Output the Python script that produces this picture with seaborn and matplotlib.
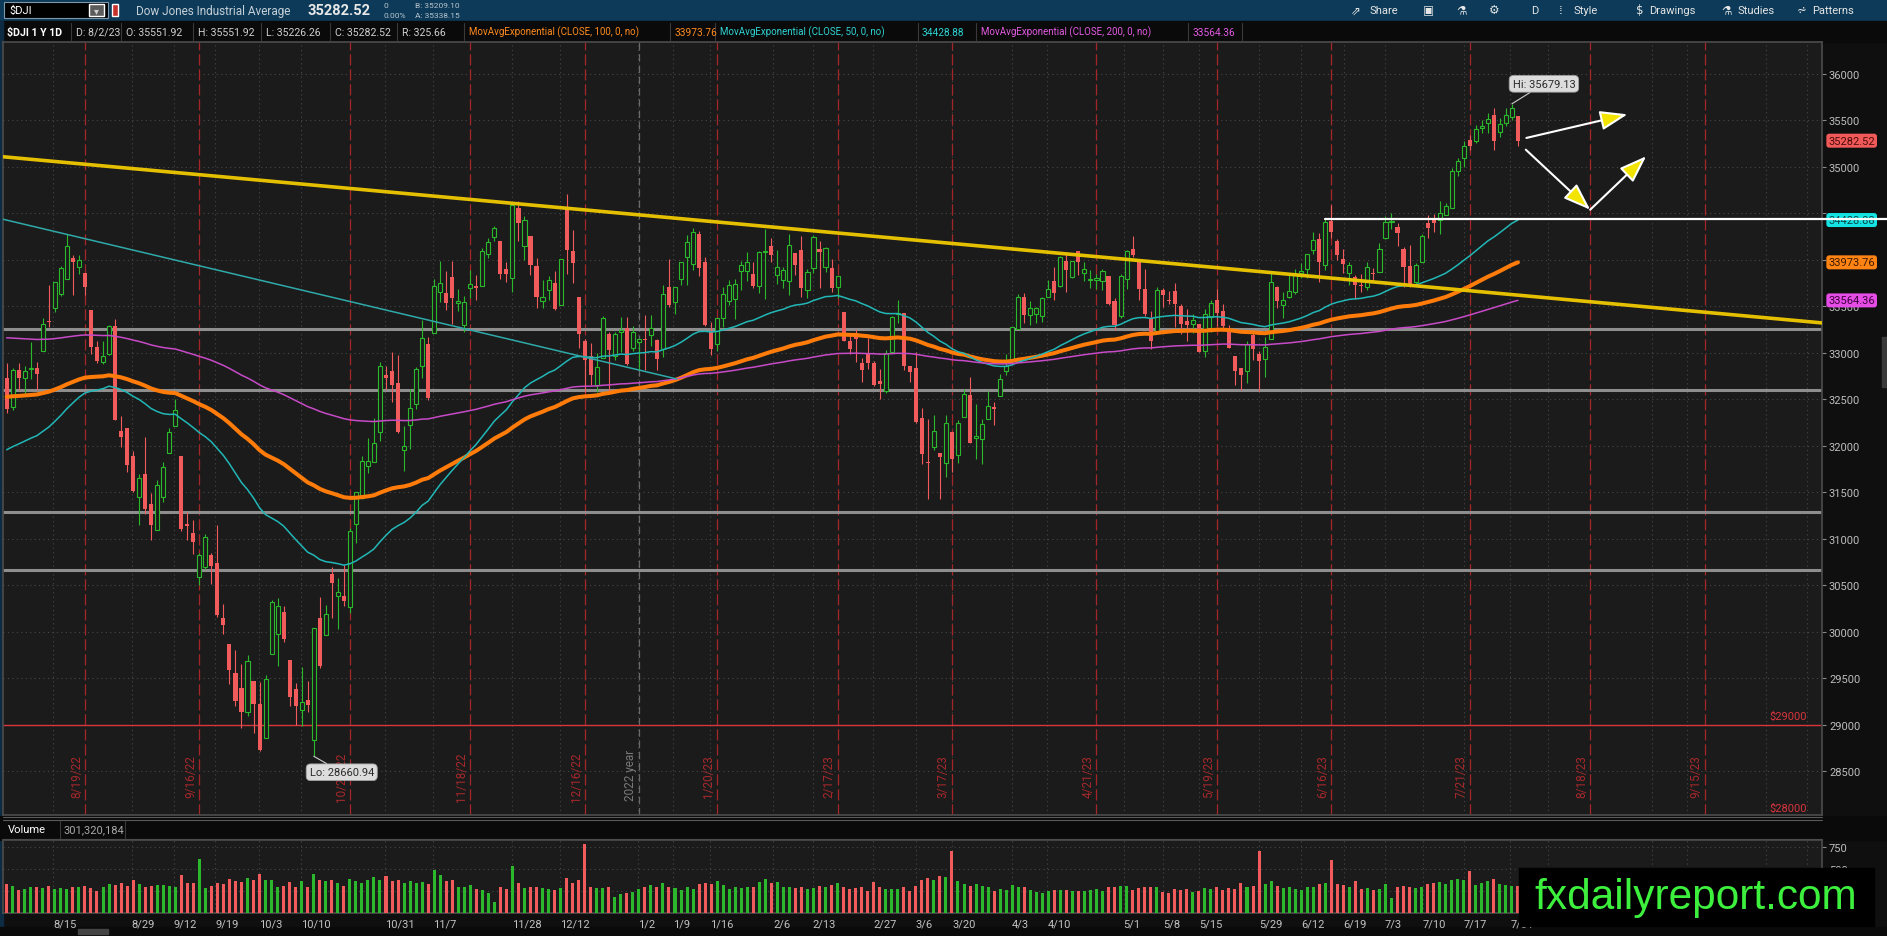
import numpy as np
import pandas as pd
import seaborn as sns
import matplotlib.pyplot as plt
from matplotlib.patches import Rectangle

# ---------------- data ($DJI, 1Y, daily) ----------------
market_holidays = ['2022-09-05', '2022-11-24', '2022-12-26', '2023-01-02', '2023-01-16',
                   '2023-02-20', '2023-04-07', '2023-05-29', '2023-06-19', '2023-07-04']

opens = [
    # Aug 22
    32731, 32413, 32813, 32727, 32830, 32833, 33025, 33346, 33478, 33638, 33794,
    34024, 33929, 33857, 33463, 33063, 32904, 32984, 33293, 32159, 32193, 31890,
    # Sep
    31454, 31697, 31378, 31093, 31447, 31925, 32209, 31893, 31154, 31062, 30594,
    30702, 30822, 30743, 30146, 29869, 29560, 29398, 29139, 29468, 29222,
    # Oct
    28855, 29757, 29972, 30218, 29700, 29389, 29163, 29262, 28837, 30152, 29966,
    30624, 30380, 30390, 30263, 31160, 31442, 31782, 31828, 32148, 32759,
    # Nov
    32808, 32671, 31950, 32225, 32454, 32857, 33100, 33215, 33658, 33649, 33818,
    33541, 33295, 33696, 33720, 33723, 34060, 34242, 34205, 33902, 33804,
    # Dec
    34560, 34149, 34254, 33931, 33562, 33673, 33753, 33517, 34554, 34096, 33598,
    33130, 32963, 32652, 32943, 33206, 32961, 33224, 33264, 33057, 33122,
    # Jan 23
    33148, 33195, 33136, 33045, 33708, 33547, 33799, 34036, 33961, 34281,
    33980, 33223, 33095, 33380, 33554, 33583, 33883, 33886, 33851, 33717,
    # Feb
    34083, 34145, 33840, 33780, 33777, 34079, 34105, 33671, 33908, 34112,
    33929, 33915, 33705, 33438, 33129, 33213, 32893, 33003, 32888,
    # Mar
    32700, 32590, 33014, 33414, 33428, 32856, 32834, 32297, 31830, 31983, 31918, 31812,
    32144, 31900, 32306, 32551, 32089, 32077, 32293, 32421, 32537, 32803, 32919,
    # Apr
    33253, 33604, 33404, 33419, 33400, 33596, 33776, 33717, 33984, 33821,
    34096, 33860, 33785, 33785, 33773, 33822, 33557, 33402, 33797,
    # May
    34121, 33995, 33690, 33378, 33227, 33672, 33572, 33663, 33501, 33342, 33315,
    33306, 33019, 33385, 33566, 33450, 33246, 32969, 32842, 32806, 33191, 32990,
    # Jun
    32939, 33152, 33713, 33514, 33603, 33657, 33863, 33906, 34102, 34221, 33950,
    34422, 34199, 34010, 33860, 33815, 33727, 33704, 33858, 33874, 34232,
    # Jul
    34411, 34349, 34120, 33932, 33766, 33974, 34399, 34454, 34425, 34479,
    34560, 34959, 35095, 35293, 35277, 35418, 35471, 35560, 35374, 35470,
    # Aug 23
    35534, 35551.92,
]
highs = [
    32894, 32839, 32891, 32854, 33121, 32904, 33375, 33735, 33762, 33931, 34282,
    34051, 34055, 33857, 33463, 33127, 33123, 33299, 33364, 32320, 32193, 31943,
    31696, 32095, 31488, 31628, 31826, 32187, 32505, 31893, 31287, 31199, 30852,
    31047, 30846, 31151, 30304, 29869, 29804, 29653, 29748, 29468, 29464,
    29531, 30345, 30366, 30273, 29700, 29448, 29620, 29470, 30041, 30371, 30287,
    30694, 30578, 30715, 31119, 31508, 31895, 32083, 32301, 32899, 32861,
    33014, 32975, 32212, 32608, 32851, 33357, 33174, 33797, 33988, 33877, 33987,
    33686, 33614, 33891, 33836, 34124, 34237, 34362, 34205, 33981, 34595,
    34631, 34475, 34256, 34021, 33784, 33825, 33879, 34014, 34712, 34327, 33598,
    33150, 33102, 32996, 33402, 33225, 33227, 33387, 33381, 33293, 33150,
    33410, 33409, 33154, 33730, 34012, 33705, 33979, 34272, 34338, 34315,
    34026, 33331, 33376, 33711, 33787, 33797, 33990, 34082, 33977, 34094,
    34335, 34232, 34103, 33927, 34282, 34079, 34252, 33897, 34265, 34199,
    34134, 34010, 33832, 33438, 33208, 33252, 32948, 33155, 32917,
    32826, 33033, 33396, 33573, 33434, 32862, 33011, 32411, 32289, 32332, 31918, 32333,
    32144, 32281, 32612, 32745, 32449, 32292, 32594, 32474, 32775, 32988, 33282,
    33633, 33649, 33555, 33498, 33601, 33786, 33924, 34040, 34082, 33989,
    34096, 33977, 33896, 33852, 33901, 33822, 33594, 33848, 34104,
    34257, 33995, 33900, 33451, 33707, 33695, 33666, 33752, 33526, 33475, 33420,
    33307, 33469, 33571, 33685, 33531, 33296, 32969, 32842, 33127, 33234, 33020,
    33173, 33878, 33714, 33656, 33849, 33905, 33969, 34066, 34300, 34285, 34449,
    34589, 34226, 34116, 33973, 33838, 33852, 33974, 33911, 34177, 34469,
    34500, 34395, 34138, 34161, 33971, 34275, 34487, 34492, 34630, 34612,
    34986, 35098, 35282, 35342, 35447, 35505, 35577, 35630, 35523, 35631,
    35679.13, 35551.92,
]
lows = [
    32352, 32389, 32601, 32547, 32721, 32597, 33025, 33282, 33439, 33610, 33794,
    33627, 33850, 33620, 32988, 32886, 32877, 32974, 32274, 31987, 31722, 31500,
    31150, 31269, 30992, 31092, 31401, 31925, 32209, 31084, 30992, 30841, 30503,
    30680, 30515, 30159, 29980, 29439, 29199, 28961, 29095, 28912, 28715,
    28855, 29757, 29630, 29885, 29205, 28999, 28983, 29141, 28660.94, 29605, 29966,
    30151, 30035, 30272, 30207, 30954, 31429, 31712, 31828, 32048, 32613,
    32476, 32136, 31727, 31963, 32391, 32735, 32493, 33215, 33548, 33466, 33307,
    33446, 33222, 33587, 33574, 33723, 34018, 34199, 33800, 33763, 33650,
    34203, 34000, 33839, 33481, 33481, 33564, 33457, 33513, 33853, 33750, 33053,
    32574, 32658, 32581, 32943, 32573, 32918, 33010, 32868, 33020, 32818,
    32812, 33078, 32813, 32960, 33493, 33415, 33728, 33725, 33892, 33822,
    33286, 32982, 33020, 33276, 33513, 33369, 33672, 33768, 33703, 33649,
    33583, 33973, 33741, 33694, 33627, 33837, 33597, 33594, 33863, 33703,
    33866, 33652, 33589, 33123, 32991, 32907, 32689, 32830, 32644,
    32500, 32568, 33014, 33318, 32819, 32689, 32244, 31806, 31430, 31955, 31430, 31670,
    31717, 31812, 32306, 32027, 31857, 31805, 32293, 32224, 32537, 32764, 32919,
    33253, 33322, 33296, 33316, 33327, 33596, 33565, 33707, 33656, 33802,
    33833, 33769, 33696, 33684, 33672, 33512, 33241, 33380, 33686,
    34026, 33571, 33392, 33040, 33227, 33493, 33529, 33279, 33204, 33131, 33210,
    33006, 32960, 33223, 33291, 33239, 33048, 32658, 32600, 32673, 32925, 32586,
    32745, 33152, 33485, 33375, 33588, 33631, 33809, 33807, 34062, 33764, 33893,
    34232, 33999, 33860, 33731, 33580, 33655, 33676, 33758, 33874, 34226,
    34336, 34154, 33705, 33713, 33725, 33974, 34232, 34298, 34281, 34479,
    34553, 34901, 34999, 35178, 35254, 35369, 35361, 35180, 35321, 35437,
    35509, 35226.26,
]
closes = [
    32397, 32813, 32727, 32803, 32833, 32775, 33310, 33337, 33761, 33913, 34152,
    33981, 33999, 33707, 33064, 32910, 32970, 33292, 32283, 32099, 31791, 31510,
    31656, 31318, 31145, 31581, 31775, 32152, 32381, 31105, 31135, 30962, 30822,
    31020, 30706, 30184, 30077, 29590, 29260, 29135, 29684, 29226, 28726,
    29490, 30317, 30274, 29927, 29297, 29203, 29240, 29211, 30039, 29635, 30186,
    30524, 30424, 30334, 31083, 31500, 31837, 31839, 32034, 32862, 32733,
    32653, 32148, 32001, 32403, 32827, 33161, 32514, 33716, 33748, 33537, 33593,
    33554, 33547, 33746, 33700, 34098, 34195, 34347, 33850, 33853, 34590,
    34395, 34430, 33947, 33597, 33598, 33781, 33477, 34005, 34109, 33966, 33203,
    32920, 32758, 32850, 33377, 33027, 33204, 33241, 32876, 33221, 33147,
    33136, 33270, 32930, 33631, 33518, 33704, 33974, 34190, 34303, 33911,
    33297, 33045, 33375, 33630, 33734, 33744, 33950, 33978, 33717, 34086,
    34093, 34054, 33926, 33891, 34156, 33949, 33699, 33870, 34246, 34089,
    34128, 33697, 33827, 33130, 33045, 33154, 32817, 32889, 32657,
    32662, 33004, 33391, 33431, 32856, 32798, 32255, 31910, 31820, 32155, 31875, 32247,
    31862, 32245, 32561, 32030, 32106, 32238, 32433, 32395, 32718, 32860, 33274,
    33601, 33403, 33483, 33486, 33587, 33685, 33647, 34030, 33887, 33988,
    33977, 33897, 33787, 33809, 33876, 33531, 33302, 33827, 34098,
    34052, 33684, 33415, 33128, 33675, 33619, 33562, 33531, 33310, 33301, 33349,
    33012, 33420, 33535, 33427, 33286, 33056, 32800, 32764, 33093, 33043, 32908,
    33061, 33763, 33563, 33573, 33665, 33834, 33877, 34066, 34212, 33979, 34408,
    34299, 34054, 33952, 33947, 33727, 33714, 33927, 33853, 34122, 34408,
    34418, 34288, 33922, 33735, 33944, 34262, 34347, 34395, 34509, 34585,
    34952, 35061, 35225, 35228, 35411, 35438, 35520, 35283, 35459, 35560,
    35630, 35282.52,
]
volume_m = [
    330, 310, 265, 275, 300, 290, 285, 305, 270, 280, 276,
    290, 300, 305, 280, 255, 295, 325, 320, 340, 310, 375,
    335, 300, 310, 320, 315, 310, 300, 430, 345, 340, 610,
    280, 310, 340, 330, 385, 360, 350, 400, 370, 440,
    380, 375, 290, 305, 350, 300, 360, 300, 440, 375, 365,
    380, 340, 310, 390, 360, 340, 380, 410, 375, 420,
    365, 380, 340, 360, 345, 350, 335, 490, 430, 360, 375,
    300, 300, 320, 270, 260, 230, 120, 290, 270, 540,
    345, 285, 300, 290, 280, 270, 260, 285, 400, 340, 375,
    790, 300, 285, 280, 295, 180, 220, 230, 235, 270,
    300, 320, 290, 340, 300, 280, 260, 300, 270, 330,
    340, 330, 360, 320, 270, 300, 280, 290, 300, 350,
    390, 340, 350, 290, 300, 280, 290, 270, 280, 310,
    300, 320, 340, 300, 270, 285, 290, 255, 350,
    290, 275, 270, 275, 290, 245, 310, 380, 400, 380, 420, 410,
    710, 360, 330, 310, 330, 310, 300, 245, 270, 260, 320,
    300, 290, 260, 240, 230, 245, 260, 260, 265, 250,
    250, 245, 260, 275, 250, 290, 300, 310, 310,
    260, 280, 290, 300, 290, 240, 225, 270, 260, 270, 240,
    250, 280, 270, 300, 260, 280, 270, 340, 300, 310, 700,
    330, 360, 310, 280, 300, 270, 260, 290, 300, 330, 340,
    600, 330, 320, 290, 360, 270, 280, 260, 270, 330,
    170, 290, 310, 290, 280, 300, 330, 340, 350, 330,
    380, 390, 370, 480, 320, 340, 360, 390, 330, 320,
    310, 301.32,
]

# moving-average studies: period, level at the left edge, readout
ema_periods = [100, 50, 200]
ema_seed = [32530, 31940, 33170]
ema_readout = ['33973.76', '34428.88', '33564.36']

# drawings
support_levels = [33255, 32600, 31285, 30660]
alert_level = 29000
breakout_level = 34440
breakout_start = '2023-06-15'
yellow_trend_dates = ['2022-08-02', '2023-08-02']
yellow_trend_prices = [35106, 33621]
teal_trend_dates = ['2022-08-02', '2023-01-10']
teal_trend_prices = [34428, 32719]
# arrows: bars after the last candle, price
arrow_x0 = [1.4, 1.3, 12.0]
arrow_y0 = [35312, 35186, 34540]
arrow_x1 = [18.2, 12.0, 21.3]
arrow_y1 = [35566, 34540, 35115]

expirations = ['2022-08-19', '2022-09-16', '2022-10-21', '2022-11-18', '2022-12-16',
               '2023-01-20', '2023-02-17', '2023-03-17', '2023-04-21', '2023-05-19',
               '2023-06-16', '2023-07-21', '2023-08-18', '2023-09-15']
# time-axis labels and where their centres sit (in bars from the first candle)
week_labels = ['8/15', '8/29', '9/12', '9/19', '10/3', '10/10', '10/31', '11/7', '11/28',
               '12/12', '1/2', '1/9', '1/16', '2/6', '2/13', '2/27', '3/6', '3/20', '4/3',
               '4/10', '5/1', '5/8', '5/15', '5/29', '6/12', '6/19', '7/3', '7/10', '7/17',
               '7/31']
week_label_pos = [9.6, 22.6, 29.6, 36.5, 43.8, 51.2, 65.2, 72.6, 86.2, 94.2, 106.2, 112.1,
                  118.7, 128.7, 135.7, 145.8, 152.4, 158.9, 168.3, 174.7, 186.9, 193.4,
                  199.9, 209.9, 216.9, 223.9, 230.3, 237.1, 243.9, 251.6]
future_grid_pos = [256, 273.3, 279, 292.2, 299]

# ---------------- style ----------------
W, H = 1887, 937
BG = '#1b1b1b'
UP = '#2cb82c'
DOWN = '#f15b5b'
GRID = '#474747'

sns.set_theme(style='dark', rc={'axes.facecolor': BG, 'figure.facecolor': '#0f0f0f',
                                'axes.edgecolor': '#4a4a4a'})
plt.rcParams['font.family'] = ['Roboto', 'DejaVu Sans']

dates = pd.bdate_range('2022-08-02', '2023-08-02', freq='C', holidays=market_holidays)
future = pd.bdate_range('2023-08-03', '2023-10-31', freq='C', holidays=['2023-09-04'])
days = dates.append(future)
n = len(closes)
assert len(dates) == n == len(opens) == len(highs) == len(lows) == len(volume_m)


def pos(d):
    return days.get_loc(pd.Timestamp(d))


x = np.arange(n)
o, h, l, c = (np.asarray(a, dtype=float) for a in (opens, highs, lows, closes))
up = c >= o
last = n - 1
px_per_bar = 6.02
# labels start at their grid line; grid line = label centre minus half the label width
week_grid = [p - len(s) * 2.8 / px_per_bar for p, s in zip(week_label_pos, week_labels)]

fig = plt.figure(figsize=(W / 100, H / 100), dpi=100)

# pixel-space background for the platform chrome
ui = fig.add_axes([0, 0, 1, 1], zorder=0)
ui.set_xlim(0, W)
ui.set_ylim(H, 0)
ui.axis('off')
ui.add_patch(Rectangle((0, 0), W, 22, color='#0c3a58'))
ui.add_patch(Rectangle((0, 22), W, 21, color='#0a0a0a'))
ui.add_patch(Rectangle((0, 22), 3, 915, color='#0d2c44'))
ui.add_patch(Rectangle((4, 3), 104, 16, fc='#000000', ec='#7c97ab', lw=0.8))
ui.add_patch(Rectangle((89, 5), 15, 12, fc='#5c5c5c'))
ui.text(96.5, 11, '▾', color='#cfcfcf', ha='center', va='center', fontsize=7,
        family=['DejaVu Sans'])
ui.add_patch(Rectangle((112, 5), 6, 12, fc='#c8302c'))
ui.text(9, 11, '$DJI', color='white', va='center', fontsize=8)
ui.text(136, 11, 'Dow Jones Industrial Average', color='#c6d0d8', va='center', fontsize=8.5)
ui.text(307, 11, '35282.52', color='#e8e8e8', va='center', fontsize=10.5, weight='bold')
ui.text(383, 6.5, '0', color='#b8c4cc', va='center', fontsize=6)
ui.text(383, 15.5, '0.00%', color='#b8c4cc', va='center', fontsize=6)
ui.text(415, 6.5, 'B: 35209.10', color='#b8c4cc', va='center', fontsize=6)
ui.text(415, 15.5, 'A: 35338.15', color='#b8c4cc', va='center', fontsize=6)
for xx, s in [(1356, '⇗'), (1428, '▣'), (1462, '⚗'), (1494, '⚙'), (1561, '⁞'),
              (1640, '$'), (1727, '⚗'), (1802, '⩫')]:
    ui.text(xx, 11, s, color='#e6e6e6', ha='center', va='center', fontsize=8.5,
            family=['DejaVu Sans'])
for xx, s in [(1370, 'Share'), (1531, 'D'), (1573, 'Style'), (1649, 'Drawings'),
              (1737, 'Studies'), (1812, 'Patterns')]:
    ui.text(xx, 11, s, color='#e6e6e6', va='center', fontsize=8)

header = [(7, '$DJI 1 Y 1D', 'white', 7.6), (76, 'D: 8/2/23', '#cfcfcf', 7.6),
          (126, 'O: 35551.92', '#cfcfcf', 7.6), (198, 'H: 35551.92', '#cfcfcf', 7.6),
          (266, 'L: 35226.26', '#cfcfcf', 7.6), (335, 'C: 35282.52', '#cfcfcf', 7.6),
          (402, 'R: 325.66', '#cfcfcf', 7.6),
          (469, 'MovAvgExponential (CLOSE, 100, 0, no)', '#ff8a1f', 7.0),
          (675, ema_readout[0], '#ff8a1f', 7.3),
          (720, 'MovAvgExponential (CLOSE, 50, 0, no)', '#2fd3d3', 7.0),
          (922, ema_readout[1], '#2fd3d3', 7.3),
          (981, 'MovAvgExponential (CLOSE, 200, 0, no)', '#e25ae2', 7.0),
          (1193, ema_readout[2], '#e25ae2', 7.3)]
for i, (xx, s, col, fs) in enumerate(header):
    ui.text(xx, 32.5, s, color=col, va='center', fontsize=fs,
            weight='bold' if i == 0 else 'normal')
for xx in [71, 121, 193, 261, 330, 397, 464, 670, 715, 918, 976, 1188, 1242]:
    ui.plot([xx, xx], [24, 41], color='#3a3a3a', lw=0.8)

# volume label row and panel splitter
ui.add_patch(Rectangle((0, 817), W, 24, color='#0a0a0a'))
ui.plot([3, 1822], [818, 818], color='#5a5a5a', lw=0.8)
ui.plot([3, 1822], [821, 821], color='#5a5a5a', lw=0.8)
ui.plot([3, 1822], [840, 840], color='#5a5a5a', lw=0.8)
ui.plot([60, 60], [822, 839], color='#3a3a3a', lw=0.8)
ui.plot([125, 125], [822, 839], color='#3a3a3a', lw=0.8)
ui.text(8, 830.5, 'Volume', color='white', va='center', fontsize=8)
ui.text(64, 830.5, '301,320,184', color='#a8a8a8', va='center', fontsize=8)
ui.add_patch(Rectangle((0, 928), W, 9, color='#0a0a0a'))
ui.add_patch(Rectangle((78, 930), 30, 5, color='#444444'))
ui.add_patch(Rectangle((1882, 338), 5, 50, color='#3a3a3a'))

# ---------------- price panel ----------------
ax = fig.add_axes([3 / W, (H - 816) / H, 1819 / W, 773 / H], zorder=1)
x_left, x_right = -0.61, 301.5
ax.set_xlim(x_left, x_right)
ax.set_ylim(28029, 36344)

ax.set_xticks(week_grid + future_grid_pos)
price_ticks = np.arange(28500, 36001, 500)
ax.set_yticks(price_ticks)
# 34000 and 34500 sit under the study price tags
ax.set_yticklabels(['' if t in (34000, 34500) else str(t) for t in price_ticks])
ax.grid(True, color=GRID, linestyle=(0, (1, 3)), lw=0.8)
ax.yaxis.tick_right()
ax.tick_params(axis='y', color='#8a8a8a', labelcolor='#bdbdbd', labelsize=8,
               length=3, width=0.8, direction='out', pad=2)
ax.tick_params(axis='x', labelbottom=False, length=4, width=0.8, direction='in',
               color='#7a7a7a')
for sp in ax.spines.values():
    sp.set_color('#4a4a4a')

# option expirations and the year break
for d in expirations:
    xi = pos(d)
    ax.axvline(xi, color='#a3262a', lw=0.9, ls=(0, (9, 3)), zorder=1)
    ts = pd.Timestamp(d)
    ax.annotate(f'{ts.month}/{ts.day}/{ts.strftime("%y")}', (xi, 28448), xytext=(-8.5, 0),
                textcoords='offset pixels', rotation=90, ha='center', va='center',
                color='#a8282c', fontsize=8.5, zorder=2)
year_idx = pos('2022-12-30')
ax.axvline(year_idx, color='#6a6a6a', lw=0.9, ls=(0, (6, 3)), zorder=1)
ax.annotate('2022 year', (year_idx, 28470), xytext=(-8.5, 0), textcoords='offset pixels',
            rotation=90, ha='center', va='center', color='#7a7a7a', fontsize=8.5, zorder=2)

# horizontal levels
for lv in support_levels:
    ax.axhline(lv, color='#8e8e8e', lw=2.2, zorder=2)
ax.axhline(alert_level, color='#d8353d', lw=1.0, zorder=2)
ax.text(0.9918, alert_level + 40, '$29000', transform=ax.get_yaxis_transform(),
        ha='right', va='bottom', color='#d8353d', fontsize=8)
ax.text(0.9918, 28110, '$28000', ha='right', va='center', color='#d8353d', fontsize=8,
        transform=ax.get_yaxis_transform())

# trend lines
ax.axline((pos(yellow_trend_dates[0]), yellow_trend_prices[0]),
          (pos(yellow_trend_dates[1]), yellow_trend_prices[1]),
          color='#e5c000', lw=2.6, zorder=6)
tx0, tx1 = pos(teal_trend_dates[0]), pos(teal_trend_dates[1]) + 0.3
slope = (teal_trend_prices[1] - teal_trend_prices[0]) / (tx1 - tx0)
sns.lineplot(x=[x_left - 1, tx1],
             y=[teal_trend_prices[0] + slope * (x_left - 1 - tx0), teal_trend_prices[1]],
             ax=ax, color='#2fa9a9', lw=1.1, zorder=6, estimator=None, sort=False)

# candles
body_lo = np.minimum(o, c)
body_h = np.maximum(np.abs(c - o), 6)
ax.vlines(x[up], l[up], h[up], color=UP, lw=0.8, zorder=3)
ax.vlines(x[~up], l[~up], h[~up], color=DOWN, lw=0.8, zorder=3)
ax.bar(x[up], body_h[up], bottom=body_lo[up], width=0.68, facecolor=BG,
       edgecolor=UP, linewidth=0.8, zorder=4)
ax.bar(x[~up], body_h[~up], bottom=body_lo[~up], width=0.68, color=DOWN,
       linewidth=0, zorder=4)

# exponential moving averages
close_s = pd.Series(closes, dtype=float)
ema_colors = ['#ff7c0a', '#22b7b7', '#c74ac7']
ema_widths = [2.9, 1.1, 1.1]
for period, seed, col, lw in zip(ema_periods, ema_seed, ema_colors, ema_widths):
    ema = (pd.concat([pd.Series([seed], dtype=float), close_s], ignore_index=True)
           .ewm(span=period, adjust=False).mean().iloc[1:].to_numpy())
    sns.lineplot(x=x, y=ema, ax=ax, color=col, lw=lw, zorder=5, estimator=None, sort=False)

# breakout line (runs over the price scale)
ax.plot([pos(breakout_start), (W - 3) / 1819 * (x_right - x_left) + x_left],
        [breakout_level, breakout_level], color='white', lw=1.6, zorder=22, clip_on=False)

# arrows
for a0, b0, a1, b1 in zip(arrow_x0, arrow_y0, arrow_x1, arrow_y1):
    ax.annotate('', xy=(last + a1, b1), xytext=(last + a0, b0),
                arrowprops=dict(arrowstyle='-|>,head_length=1.4,head_width=0.5',
                                fc='#f2e400', ec='white', lw=1.5, shrinkA=0, shrinkB=0),
                zorder=7)

# hi / lo bubbles
hi_i, lo_i = int(np.argmax(h)), int(np.argmin(l))
bubble = dict(boxstyle='round,pad=0.3,rounding_size=0.4', fc='#dcdcdc', ec='#a0a0a0', lw=0.6)
ax.annotate(f'Hi: {h[hi_i]:.2f}', (hi_i, h[hi_i]), xytext=(32, 20), textcoords='offset pixels',
            ha='center', va='center', fontsize=8, color='#2a2a2a', bbox=bubble, zorder=8,
            arrowprops=dict(arrowstyle='-', color='#cfcfcf', lw=0.8, shrinkA=0, shrinkB=0))
ax.annotate(f'Lo: {l[lo_i]:.2f}', (lo_i, l[lo_i]), xytext=(28, -16), textcoords='offset pixels',
            ha='center', va='center', fontsize=8, color='#2a2a2a', bbox=bubble, zorder=8,
            arrowprops=dict(arrowstyle='-', color='#cfcfcf', lw=0.8, shrinkA=0, shrinkB=0))

# price tags on the scale
tags = [(closes[-1], '#f25a5a', '#4d0b0b'),
        (float(ema_readout[1]), '#14e3e3', '#0b4545'),
        (float(ema_readout[0]), '#ff8414', '#3d1900'),
        (float(ema_readout[2]), '#e64ce6', '#3d003d')]
for val, fc, tc in tags:
    ax.text(1.0035, val, f'{val:.2f}', transform=ax.get_yaxis_transform(), ha='left',
            va='center', fontsize=8, color=tc, clip_on=False, zorder=20,
            bbox=dict(boxstyle='round,pad=0.18,rounding_size=0.25', fc=fc, ec='none'))

# ---------------- volume panel ----------------
ax2 = fig.add_axes([3 / W, (H - 914) / H, 1819 / W, 73 / H], zorder=1)
ax2.set_xlim(x_left, x_right)
ax2.set_ylim(0, 830)
ax2.bar(x, volume_m, width=0.5, color=np.where(up, UP, DOWN), linewidth=0, zorder=3)
ax2.set_xticks(week_grid + future_grid_pos)
ax2.set_xticklabels(week_labels + [''] * len(future_grid_pos), ha='left')
ax2.set_yticks([250, 500, 750])
ax2.set_yticklabels(['', '500', '750'])
ax2.grid(True, color=GRID, linestyle=(0, (1, 3)), lw=0.8)
ax2.yaxis.tick_right()
ax2.tick_params(axis='y', color='#8a8a8a', labelcolor='#bdbdbd', labelsize=8,
                length=3, width=0.8, direction='out', pad=2)
ax2.tick_params(axis='x', color='#7a7a7a', labelcolor='#c2c2c2', labelsize=8,
                length=0, pad=4)
for sp in ax2.spines.values():
    sp.set_color('#4a4a4a')

# ---------------- watermark ----------------
top = fig.add_axes([0, 0, 1, 1], zorder=10)
top.set_xlim(0, W)
top.set_ylim(H, 0)
top.axis('off')
top.patch.set_visible(False)
top.add_patch(Rectangle((1519, 869), 355, 58, color='black'))
top.text(1696, 898, 'fxdailyreport.com', color='#3ef03e', ha='center', va='center',
         fontsize=30.5, family=['Liberation Sans', 'DejaVu Sans'])

fig.savefig('out.png', dpi=100)
